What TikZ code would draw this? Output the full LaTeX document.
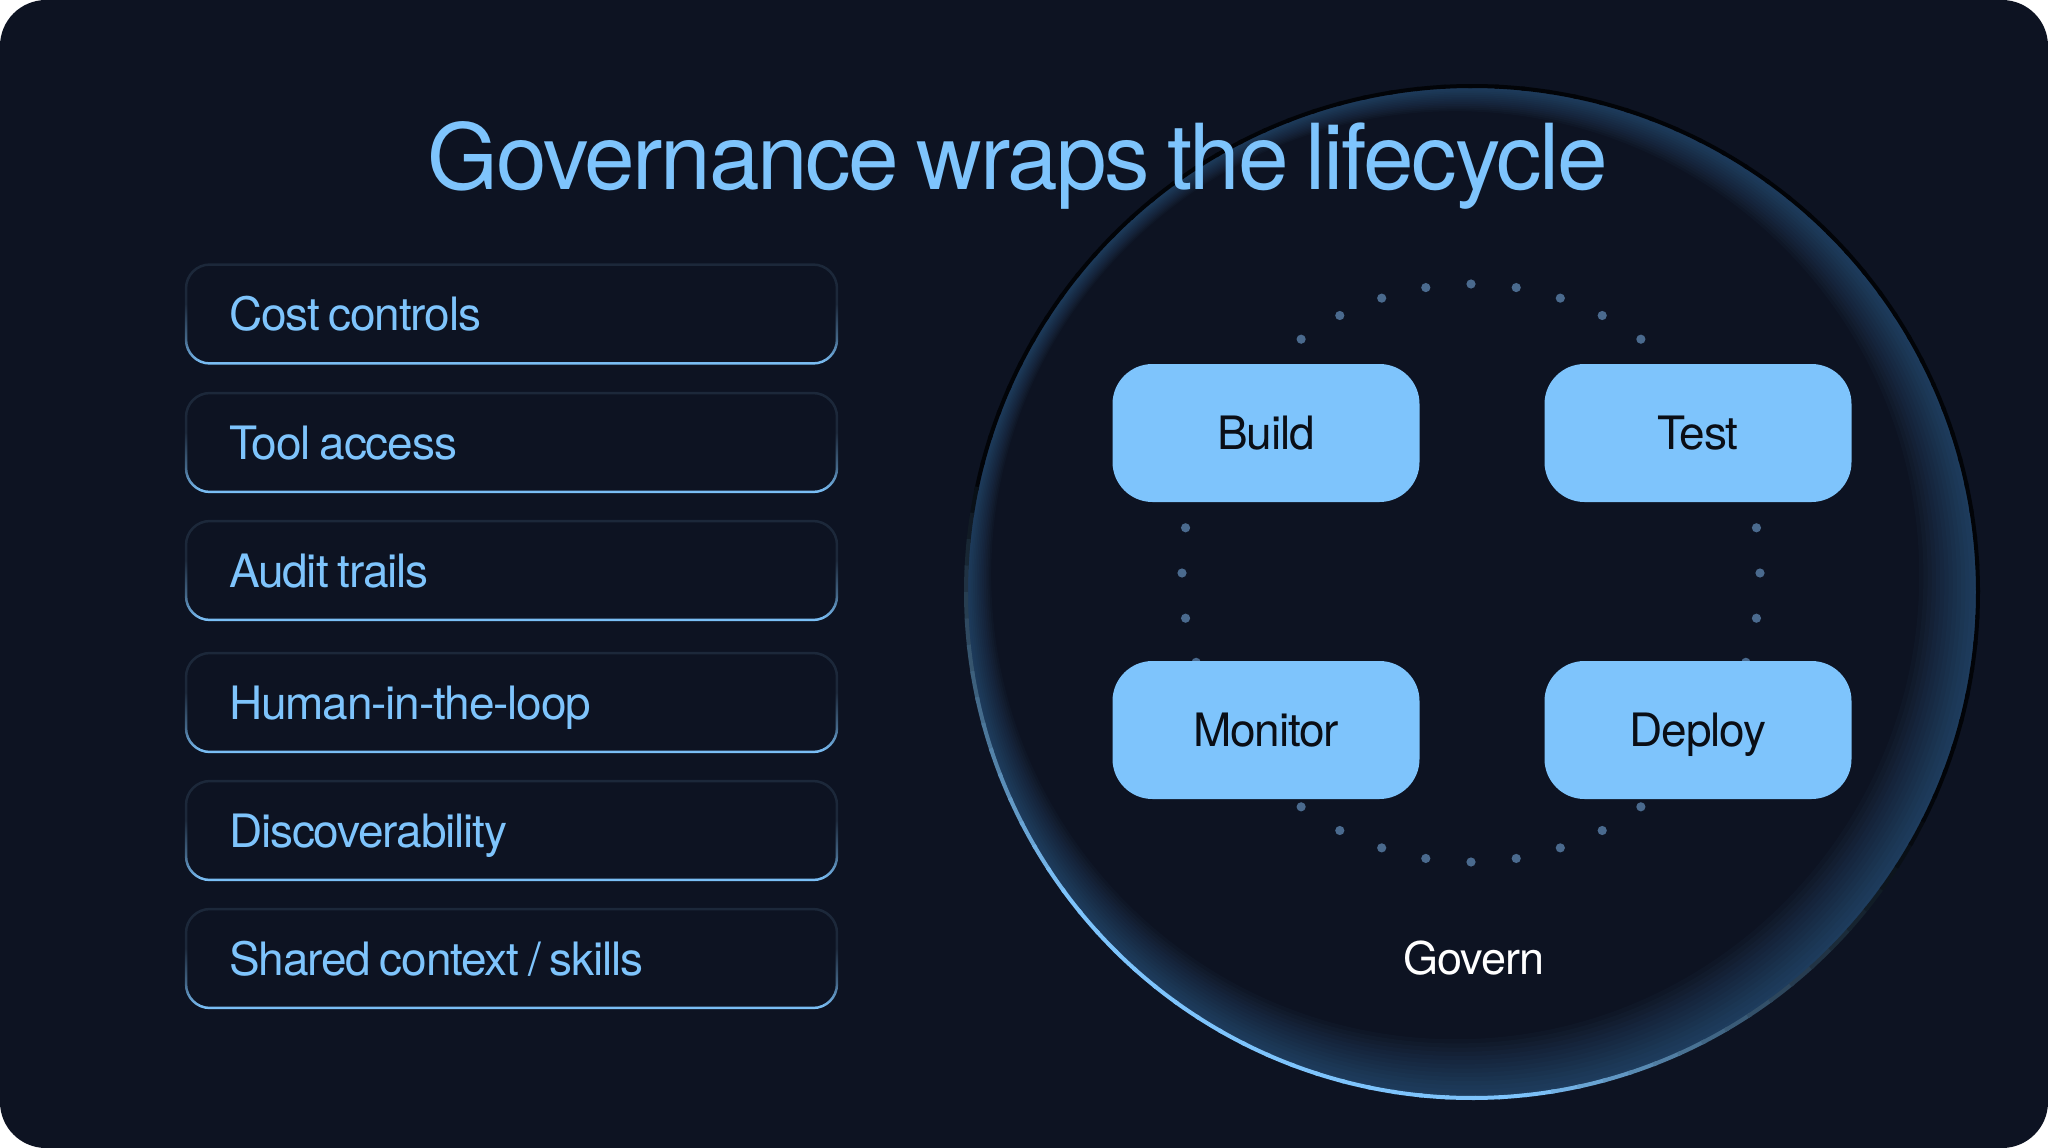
\documentclass[tikz,border=0pt]{standalone}
\usepackage{fontspec}
\setmainfont{TeX Gyre Heros}[LetterSpace=-2.5, WordSpace=0.75]
\usetikzlibrary{calc}
\definecolor{pagebg}{RGB}{13,19,34}
\definecolor{skyblue}{RGB}{126,196,252}
\definecolor{edgedark}{RGB}{28,40,58}
\definecolor{dotblue}{RGB}{74,106,142}
\definecolor{glowblue}{RGB}{74,138,200}
\definecolor{rimdark}{RGB}{2,4,8}
\definecolor{inkdark}{RGB}{10,14,22}
\pgfdeclareverticalshading{edgefade}{100bp}{color(0bp)=(skyblue); color(25bp)=(skyblue);
  color(38bp)=(skyblue!40!edgedark); color(55bp)=(edgedark); color(100bp)=(edgedark)}

\begin{document}
\begin{tikzpicture}[x=1pt, y=-1pt,
      card/.style={rounded corners=25pt, minimum width=653pt, minimum height=101pt,
                   text width=565pt, inner xsep=44pt, align=left, text=skyblue,
                   font=\fontsize{46}{50}\selectfont, text height=33pt, text depth=0pt,
                   execute at begin node={\spaceskip=0pt\xspaceskip=0pt\relax}},
      stage/.style={fill=skyblue, rounded corners=40pt, minimum width=307pt,
                    minimum height=138pt, inner sep=0pt, text=inkdark,
                    font=\fontsize{46}{50}\selectfont, text height=33pt, text depth=0pt},
      lab/.style={anchor=base, font=\fontsize{45}{50}\selectfont}
    ]
    \fill[white] (0,0) rectangle (2048,1148);
    \fill[pagebg, rounded corners=46pt] (0,0) rectangle (2048,1148);
    \useasboundingbox (0,0) rectangle (2048,1148);

    % governance circle: inner glow, then rim
    \coordinate (ring) at (1472,592);
    \coordinate (dots) at (1471,573);
    \begin{scope}
      \clip (ring) circle[radius=506];
      \foreach \i in {1,...,14}
        \fill[glowblue, opacity=0.035, even odd rule] (ring) circle[radius=510]
          ($(ring)+({-1.2pt*\i},{1.2pt*\i})$) circle[radius={506-3*\i}];
    \end{scope}
    \foreach \t in {0,3,...,357}{
      \pgfmathsetmacro\rd{max(0.001,(336-\t)/61)}
      \pgfmathsetmacro\rb{100*max(0,min(1,(\t-165)/50,\rd^1.5))}
      \draw[skyblue!\rb!rimdark, line width=4pt] ($(ring)+(-\t:506)$)
        arc[start angle=-\t, end angle=-\t-3.4, radius=506];
    }

    % dotted loop behind the stages
    \foreach \a in {0,9,...,351}
      \fill[dotblue] ($(dots)+(\a:289)$) circle[radius=4.6];

    % lifecycle stages
    \node[stage] (build) at (1266,433) {Build};
    \node[stage] (test) at (1698,433) {Test};
    \node[stage] (monitor) at (1266,730) {Monitor};
    \node[stage] (deploy) at (1698,730) {Deploy};
    \node[lab, text=white] (govern) at (1474,974) {Govern};

    % governance controls
    \node[card] (pol1) at (511.5,314) {Cost controls};
    \node[card] (pol2) at (511.5,442.5) {Tool access};
    \node[card] (pol3) at (511.5,570.5) {Audit trails};
    \node[card] (pol4) at (511.5,702.5) {Human-in-the-loop};
    \node[card] (pol5) at (511.5,830.5) {Discoverability};
    \node[card] (pol6) at (511.5,958.5) {Shared context / skills};
    \foreach \i in {1,...,6}
      \shade[shading=edgefade, even odd rule, rounded corners=25pt]
        (pol\i.south west) rectangle (pol\i.north east)
        [rounded corners=22.5pt] ([shift={(2.5pt,2.5pt)}]pol\i.south west)
        rectangle ([shift={(-2.5pt,-2.5pt)}]pol\i.north east);

    \node[anchor=base, text=skyblue, font=\fontsize{91}{100}\selectfont] (title)
      at (1018,189) {Governance wraps the lifecycle};
  \end{tikzpicture}
\end{document}
